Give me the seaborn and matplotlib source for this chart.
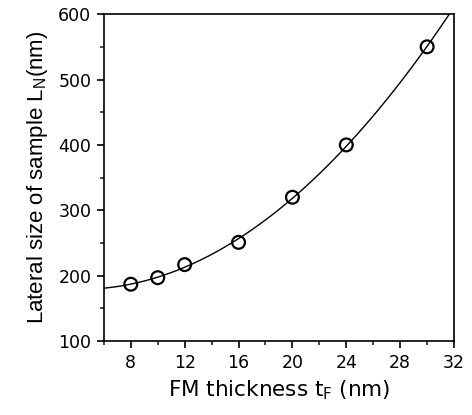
import numpy as np
import pandas as pd
import seaborn as sns
import matplotlib.pyplot as plt
from matplotlib.ticker import MultipleLocator

# FM thickness (nm) vs lateral sample size (nm)
thickness = [8, 10, 12, 16, 20, 24, 30]
lateral_size = [187, 197, 217, 251, 320, 400, 550]

df = pd.DataFrame({'t': thickness, 'L': lateral_size})

sns.set_style('ticks')
plt.rcParams['font.family'] = ['DejaVu Sans']
plt.rcParams['text.color'] = 'black'
plt.rcParams['axes.labelcolor'] = 'black'

fig = plt.figure(figsize=(4.72, 4.15), dpi=100)
ax = fig.add_axes([0.220, 0.178, 0.742, 0.788])
ax.set_xlim(6, 32)
ax.set_ylim(100, 600)

# quadratic fit drawn across the whole axis range
sns.regplot(ax=ax, data=df, x='t', y='L', order=2, ci=None, truncate=False,
            scatter=False, line_kws={'color': 'black', 'lw': 1})
sns.scatterplot(ax=ax, data=df, x='t', y='L', marker='o', s=85,
                facecolor='none', edgecolor='black', linewidth=1.6, zorder=3)

ax.set_xlim(6, 32)
ax.set_ylim(100, 600)
ax.set_xticks([8, 12, 16, 20, 24, 28, 32])
ax.xaxis.set_minor_locator(MultipleLocator(2))
ax.yaxis.set_major_locator(MultipleLocator(100))
ax.yaxis.set_minor_locator(MultipleLocator(50))
ax.tick_params(which='major', direction='out', length=5, width=1.2, labelsize=12.5, colors='black', pad=4)
ax.tick_params(which='minor', direction='out', length=3, width=1.2)
for s in ax.spines.values():
    s.set_linewidth(1.2)
    s.set_color('black')

ax.set_xlabel('FM thickness t$_\\mathregular{F}$ (nm)', fontsize=15.5, labelpad=5)
ax.set_ylabel('Lateral size of sample L$_\\mathregular{N}$(nm)', family='Liberation Sans', fontsize=16, labelpad=6)

plt.savefig('out.png', dpi=100)
